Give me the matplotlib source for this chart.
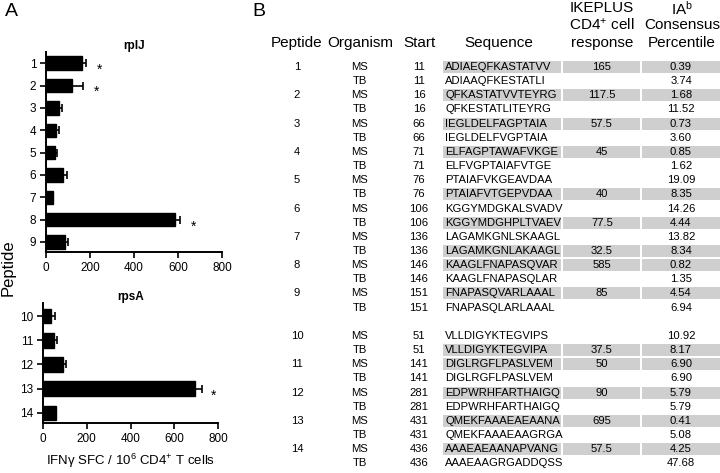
import matplotlib
matplotlib.use("Agg")
import matplotlib.pyplot as plt
from matplotlib.patches import Rectangle

plt.rcParams['font.family'] = ['Liberation Sans', 'DejaVu Sans']
plt.rcParams['mathtext.fontset'] = 'custom'
plt.rcParams['mathtext.rm'] = 'Liberation Sans'
plt.rcParams['mathtext.it'] = 'Liberation Sans:italic'

# ---- Panel A data ----
rplj_peptides = [1, 2, 3, 4, 5, 6, 7, 8, 9]
rplj_values = [165, 117.5, 57.5, 45, 40, 77.5, 32.5, 585, 85]
rplj_errors = [18, 50, 15, 12, 8, 20, 0, 25, 15]
rplj_signif = [1, 2, 8]

rpsa_peptides = [10, 11, 12, 13, 14]
rpsa_values = [37.5, 50, 90, 695, 57.5]
rpsa_errors = [18, 12, 15, 30, 0]
rpsa_signif = [13]

x_ticks = [0, 200, 400, 600, 800]

# ---- Panel B data ----
tbl_peptide = ["1", "", "2", "", "3", "", "4", "", "5", "", "6", "", "7", "", "8", "", "9", "",
               "10", "", "11", "", "12", "", "13", "", "14", ""]
tbl_organism = ["MS", "TB"] * 14
tbl_start = [11, 11, 16, 16, 66, 66, 71, 71, 76, 76, 106, 106, 136, 136, 146, 146, 151, 151,
             51, 51, 141, 141, 281, 281, 431, 431, 436, 436]
tbl_sequence = ["ADIAEQFKASTATVV", "ADIAAQFKESTATLI", "QFKASTATVVTEYRG", "QFKESTATLITEYRG",
                "IEGLDELFAGPTAIA", "IEGLDELFVGPTAIA", "ELFAGPTAWAFVKGE", "ELFVGPTAIAFVTGE",
                "PTAIAFVKGEAVDAA", "PTAIAFVTGEPVDAA", "KGGYMDGKALSVADV", "KGGYMDGHPLTVAEV",
                "LAGAMKGNLSKAAGL", "LAGAMKGNLAKAAGL", "KAAGLFNAPASQVAR", "KAAGLFNAPASQLAR",
                "FNAPASQVARLAAAL", "FNAPASQLARLAAAL",
                "VLLDIGYKTEGVIPS", "VLLDIGYKTEGVIPA", "DIGLRGFLPASLVEM", "DIGLRGFLPASLVEM",
                "EDPWRHFARTHAIGQ", "EDPWRHFARTHAIGQ", "QMEKFAAAEAEAANA", "QMEKFAAAEAAGRGA",
                "AAAEAEAANAPVANG", "AAAEAAGRGADDQSS"]
tbl_response = ["165", "", "117.5", "", "57.5", "", "45", "", "", "40", "", "77.5", "", "32.5",
                "585", "", "85", "",
                "", "37.5", "50", "", "90", "", "695", "", "57.5", ""]
tbl_percentile = ["0.39", "3.74", "1.68", "11.52", "0.73", "3.60", "0.85", "1.62", "19.09", "8.35",
                  "14.26", "4.44", "13.82", "8.34", "0.82", "1.35", "4.54", "6.94",
                  "10.92", "8.17", "6.90", "6.90", "5.79", "5.79", "0.41", "5.08", "4.25", "47.68"]
tbl_headers = ["Peptide", "Organism", "Start", "Sequence"]

W, H = 720, 473
fig = plt.figure(figsize=(W / 100, H / 100), dpi=100)


def px_axes(left, top, right, bottom):
    return fig.add_axes([left / W, 1 - bottom / H, (right - left) / W, (bottom - top) / H])


def bar_panel(ax, peps, vals, errs, signif, title, ylim, star_off):
    ax.barh(peps, vals, height=0.6, color='black', edgecolor='black')
    for p, v, e in zip(peps, vals, errs):
        if e > 0:
            ax.errorbar(v, p, xerr=[[0], [e]], fmt='none', ecolor='black',
                        elinewidth=1.2, capsize=3, capthick=1.2)
    for p in signif:
        i = peps.index(p)
        ax.text(vals[i] + errs[i] + star_off, p + 0.3, '*', ha='center', va='center', fontsize=10)
    ax.set_xlim(0, 800)
    ax.set_ylim(*ylim)
    ax.set_yticks(peps)
    ax.set_yticklabels([str(p) for p in peps])
    ax.set_xticks(x_ticks)
    ax.set_xticklabels([str(t) for t in x_ticks])
    for s in ['top', 'right']:
        ax.spines[s].set_visible(False)
    for s in ['left', 'bottom']:
        ax.spines[s].set_linewidth(1.4)
    ax.tick_params(axis='both', length=4, width=1.2, labelsize=8.5, pad=3)
    ax.set_title(title, fontsize=8.5, fontweight='bold', pad=2)


ax1 = px_axes(46, 52, 222, 252)
bar_panel(ax1, rplj_peptides, rplj_values, rplj_errors, rplj_signif, 'rplJ', (9.45, 0.5), 62)
ax2 = px_axes(43, 303, 218, 423)
bar_panel(ax2, rpsa_peptides, rpsa_values, rpsa_errors, rpsa_signif, 'rpsA', (14.42, 9.46), 55)
ax2.set_xlabel('IFNγ SFC / 10$^{6}$ CD4$^{+}$ T cells', fontsize=9.5, labelpad=5)

fig.text(5 / W, 1 - 12 / H, 'A', fontsize=14, ha='left', va='center')
fig.text(8 / W, 1 - 268 / H, 'Peptide', fontsize=12, rotation=90, ha='center', va='center')

# ---- Panel B table ----
tx = fig.add_axes([0, 0, 1, 1])
tx.set_xlim(0, W)
tx.set_ylim(H, 0)
tx.axis('off')
tx.patch.set_alpha(0)

tx.text(252, 12, 'B', fontsize=14, ha='left', va='center')
col_x = [297, 360, 419, 499]
for cx, h in zip(col_x, tbl_headers):
    tx.text(cx, 43, h, fontsize=11, ha='center', va='center')
tx.text(602, 8, 'IKEPLUS', fontsize=11, ha='center', va='center')
tx.text(602, 25, 'CD4$^{+}$ cell', fontsize=11, ha='center', va='center')
tx.text(602, 43, 'response', fontsize=11, ha='center', va='center')
tx.text(682, 9, 'IA$^{\\mathrm{b}}$', fontsize=11, ha='center', va='center')
tx.text(682, 25, 'Consensus', fontsize=11, ha='center', va='center')
tx.text(682, 43, 'Percentile', fontsize=11, ha='center', va='center')

gray = '#cfcfcf'
step = 14.15
fs = 8.1
for i in range(len(tbl_sequence)):
    y = 67 + i * step if i < 18 else 336 + (i - 18) * step
    if tbl_response[i]:
        for x0, x1 in [(443, 561), (563, 640), (642, 720)]:
            tx.add_patch(Rectangle((x0, y - 6), x1 - x0, 12, facecolor=gray, edgecolor='none'))
    tx.text(297, y, tbl_peptide[i], fontsize=fs, ha='center', va='center')
    tx.text(360, y, tbl_organism[i], fontsize=fs, ha='center', va='center')
    tx.text(419, y, str(tbl_start[i]), fontsize=fs, ha='center', va='center')
    tx.text(445, y, tbl_sequence[i], fontsize=fs, ha='left', va='center')
    tx.text(602, y, tbl_response[i], fontsize=fs, ha='center', va='center')
    tx.text(681, y, tbl_percentile[i], fontsize=fs, ha='center', va='center')

fig.savefig('out.png', dpi=100)
